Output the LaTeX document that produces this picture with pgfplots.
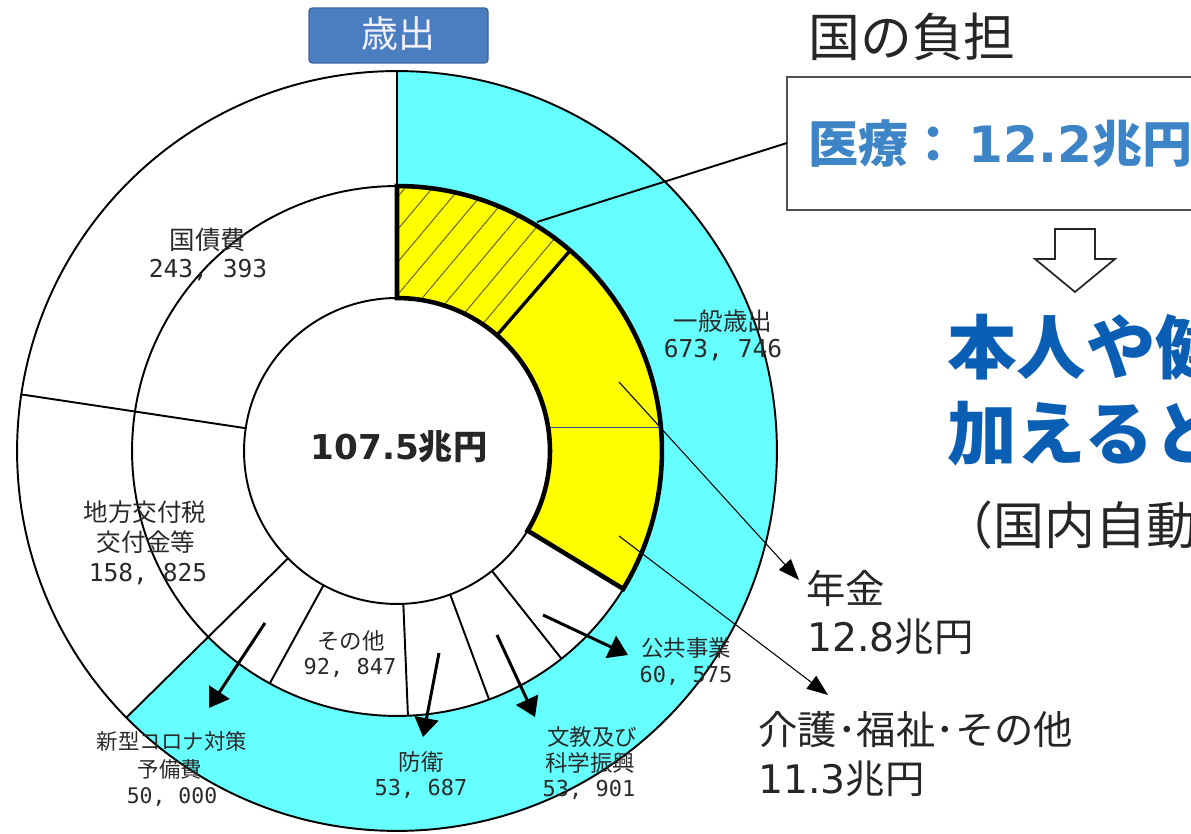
\documentclass[border=0pt]{standalone}
\usepackage{fontspec}
\usepackage{pgfplots}
\usepackage{pgfplotstable}
\pgfplotsset{compat=1.18}
\usetikzlibrary{calc,patterns.meta,arrows.meta}
\setmainfont{Noto Sans CJK JP}
\newfontfamily\dv{DejaVu Sans}
\newfontfamily\dvm{DejaVu Sans Mono}

\definecolor{cy}{HTML}{66FFFF}
\definecolor{yl}{HTML}{FFFF00}
\definecolor{hatch}{HTML}{6B6B30}
\definecolor{bluebig}{HTML}{0A5FB4}
\definecolor{bluebox}{HTML}{3D85C6}
\definecolor{txt}{HTML}{262626}
\definecolor{lab}{HTML}{2A2A2A}
\definecolor{saibox}{HTML}{4A7EC0}
\definecolor{saiborder}{HTML}{3A66A0}
\definecolor{boxgray}{HTML}{505050}
\definecolor{thinblue}{HTML}{2F4F8F}

% outer ring (clockwise from the top), 億円
\pgfplotstableread{
item value
ippan 673746
chiho 158825
kokusai 243393
}\outertbl
% inner ring (clockwise from the top), 億円
\pgfplotstableread{
item value
iryo 122000
nenkin 128000
kaigo 112735
koukyo 60575
bunkyo 53901
boei 53687
sonota 92847
corona 50000
}\innertbl

\def\cum{0}
\pgfplotsforeachungrouped \idx in {0,...,2}{%
  \pgfplotstablegetelem{\idx}{value}\of\outertbl
  \xdef\cum{\fpeval{\cum+\pgfplotsretval}}%
}
\xdef\total{\cum}
\def\cum{0}
\pgfplotsforeachungrouped \idx in {0,...,2}{%
  \pgfplotstablegetelem{\idx}{value}\of\outertbl
  \xdef\cum{\fpeval{\cum+\pgfplotsretval}}%
  \expandafter\xdef\csname oa\idx\endcsname{\fpeval{round(360*\cum/\total,4)}}%
}
\def\cum{0}
\pgfplotsforeachungrouped \idx in {0,...,7}{%
  \pgfplotstablegetelem{\idx}{value}\of\innertbl
  \xdef\cum{\fpeval{\cum+\pgfplotsretval}}%
  \expandafter\xdef\csname ia\idx\endcsname{\fpeval{round(360*\cum/\total,4)}}%
}
\newcommand\oa[1]{\csname oa#1\endcsname}
\newcommand\ia[1]{\csname ia#1\endcsname}
\xdef\bh{\fpeval{round(209*cosd(\ia{1}),3)}}
\xdef\bxa{\fpeval{round(397+sqrt(153^2-\bh^2),3)}}
\xdef\bxb{\fpeval{round(397+sqrt(265^2-\bh^2),3)}}

\def\rone{3.06cm}
\def\rtwo{5.30cm}
\def\rthree{7.60cm}

\newcommand\sector[5]{%
  \path[#1] ($(C)+({90-(#2)}:#5)$) arc[start angle={90-(#2)}, end angle={90-(#3)}, radius=#5]
    -- ($(C)+({90-(#3)}:#4)$) arc[start angle={90-(#3)}, end angle={90-(#2)}, radius=#4] -- cycle;}
\newcommand\radial[4]{\draw[#1] ($(C)+({90-(#2)}:#3)$) -- ($(C)+({90-(#2)}:#4)$);}
\newcommand\fs[1]{\fontsize{#1}{#1}\selectfont}
\newcommand\lab[4]{\node[anchor=center,inner sep=0pt,text=lab,font=\fs{#3}] at (axis cs:#1,#2) {#4};}

\begin{document}
\begin{tikzpicture}
\begin{axis}[x=0.02cm, y=0.02cm, xmin=0, xmax=1191, ymin=0, ymax=834,
  enlargelimits=false, hide axis, clip=true]
\path (axis cs:0,0) rectangle (axis cs:1191,834);
\coordinate (C) at (axis cs:397,383);
% fills
\sector{fill=cy}{0}{\oa{0}}{\rtwo}{\rthree}
\sector{fill=yl}{0}{\ia{2}}{\rone}{\rtwo}
\sector{pattern={Lines[angle=50,distance=0.42cm,line width=0.6pt]},pattern color=hatch}{0}{\ia{0}}{\rone}{\rtwo}
% circles
\draw[line width=1.1pt] (C) circle[radius=\rthree];
\draw[line width=1.1pt] (C) circle[radius=\rtwo];
\draw[line width=1.1pt] (C) circle[radius=\rone];
% boundaries
\radial{line width=1.1pt}{0}{\rone}{\rthree}
\radial{line width=1.1pt}{\oa{0}}{\rone}{\rthree}
\radial{line width=1.1pt}{\oa{1}}{\rone}{\rthree}
\radial{line width=1.1pt}{\ia{3}}{\rone}{\rtwo}
\radial{line width=1.1pt}{\ia{4}}{\rone}{\rtwo}
\radial{line width=1.1pt}{\ia{5}}{\rone}{\rtwo}
\radial{line width=1.1pt}{\ia{6}}{\rone}{\rtwo}
\draw[thinblue,line width=0.6pt] (axis cs:\bxa,{383+\bh}) -- (axis cs:\bxb,{383+\bh});
% social security outline
\sector{draw=black,line width=2.6pt}{0}{\ia{2}}{\rone}{\rtwo}
\radial{line width=1.9pt}{\ia{0}}{\rone}{\rtwo}

% ring labels
\lab{208}{594}{14.5pt}{国債費}
\lab{208}{564}{14pt}{\dvm 243, 393}
\lab{145}{322}{14pt}{地方交付税}
\lab{146}{292}{14pt}{交付金等}
\lab{148}{260}{14pt}{\dvm 158, 825}
\lab{723}{513}{14pt}{一般歳出}
\lab{723}{484}{14pt}{\dvm 673, 746}
\lab{351}{193}{12.8pt}{その他}
\lab{350}{166}{12.5pt}{\dvm 92, 847}
\lab{686}{186}{12.8pt}{公共事業}
\lab{686}{158}{12.5pt}{\dvm 60, 575}
\lab{592}{97}{12.8pt}{文教及び}
\lab{590}{71}{12.8pt}{科学振興}
\lab{589}{44}{12.5pt}{\dvm 53, 901}
\lab{421}{72}{12.8pt}{防衛}
\lab{421}{45}{12.5pt}{\dvm 53, 687}
\lab{172}{93}{12.2pt}{新型コロナ対策}
\lab{170}{65}{12.2pt}{予備費}
\lab{172}{37}{12.2pt}{\dvm 50, 000}
\node[anchor=center,inner sep=0pt,text=txt,font=\fs{19.5pt}\bfseries] at (axis cs:399,387) {{\dv\bfseries 107.5}兆円};

% arrows inside the chart
\draw[line width=1.7pt,-{Triangle[length=0.38cm,width=0.48cm]}] (axis cs:265,211) -- (axis cs:209,126);
\draw[line width=1.7pt,-{Triangle[length=0.38cm,width=0.48cm]}] (axis cs:439,181) -- (axis cs:423,97);
\draw[line width=1.7pt,-{Triangle[length=0.38cm,width=0.48cm]}] (axis cs:497,199) -- (axis cs:535,117);
\draw[line width=1.7pt,-{Triangle[length=0.38cm,width=0.48cm]}] (axis cs:543,219) -- (axis cs:628,179);

% title box
\draw[fill=saibox,draw=saiborder,line width=0.8pt,rounded corners=2pt] (axis cs:309,826) rectangle (axis cs:488,771);
\node[anchor=center,inner sep=0pt,text=white!94!blue,font=\fs{21pt}] at (axis cs:398,800) {歳出};

% right side
\node[anchor=west,inner sep=0pt,text=txt,font=\fs{29.5pt}] at (axis cs:808,797) {国の負担};
\draw[line width=1.6pt,draw=boxgray] (axis cs:787,757) rectangle (axis cs:1230,624);
\draw[line width=1.1pt] (axis cs:537,612) -- (axis cs:787,691);
\node[anchor=west,inner sep=0pt,text=bluebox,font=\fs{28.5pt}\bfseries] at (axis cs:808,690) {医療：\hspace{0.2cm}{\dv\bfseries 12.2}兆円};
\draw[fill=white,draw=txt,line width=1pt] (axis cs:1055,605) -- (axis cs:1095,605) -- (axis cs:1095,575) -- (axis cs:1115,575) -- (axis cs:1075,542) -- (axis cs:1035,575) -- (axis cs:1055,575) -- cycle;
\node[anchor=west,inner sep=0pt,text=bluebig,font=\fs{39.5pt}\bfseries] at (axis cs:947,487) {本人や健康保険};
\node[anchor=west,inner sep=0pt,text=bluebig,font=\fs{39.5pt}\bfseries] at (axis cs:947,401) {加えると約};
\node[anchor=west,inner sep=0pt,text=txt,font=\fs{29pt}] at (axis cs:942,309) {（国内自動車};

\draw[line width=0.6pt,-{Triangle[length=0.42cm,width=0.32cm]}] (axis cs:619,452) -- (axis cs:799,254);
\draw[line width=0.6pt,-{Triangle[length=0.42cm,width=0.32cm]}] (axis cs:619,298) -- (axis cs:828,139);
\node[anchor=west,inner sep=0pt,text=txt,font=\fs{22.4pt}] at (axis cs:806,246) {年金};
\node[anchor=west,inner sep=0pt,text=txt,font=\fs{22.4pt}] at (axis cs:807,197) {{\dv 12.8}兆円};
\node[anchor=west,inner sep=0pt,text=txt,font=\fs{22.4pt}] at (axis cs:758,104) {介護･福祉･その他};
\node[anchor=west,inner sep=0pt,text=txt,font=\fs{22.4pt}] at (axis cs:758,55) {{\dv 11.3}兆円};
\end{axis}
\end{tikzpicture}
\end{document}
